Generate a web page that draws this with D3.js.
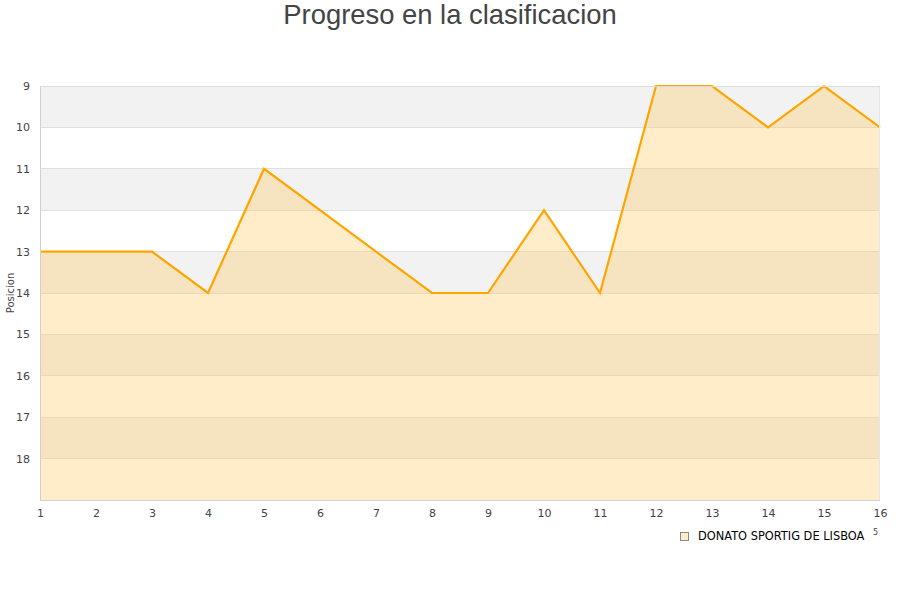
<!DOCTYPE html>
<html><head><meta charset="utf-8">
<script src="https://cdn.jsdelivr.net/npm/d3@7"></script>
<style>body{margin:0;background:#fff}</style>
</head><body>
<svg id="c" width="900" height="600"></svg>
<script>
const jornadas = [1,2,3,4,5,6,7,8,9,10,11,12,13,14,15,16];
const posiciones = [13,13,13,14,11,12,13,14,14,12,14,9,9,10,9,10];
const yTicks = [9,10,11,12,13,14,15,16,17,18];
const equipo = "DONATO SPORTIG DE LISBOA";
const titulo = "Progreso en la clasificacion";

const svg = d3.select("#c");
const L = 40, R = 880, T = 86, B = 500;
const x = d3.scaleLinear().domain([1,16]).range([L,R]);
const y = d3.scaleLinear().domain([9,19]).range([T,B]);

svg.append("text").attr("x",450).attr("y",24).attr("text-anchor","middle")
  .attr("font-family","Liberation Sans, Arial, sans-serif").attr("font-size",27.4)
  .attr("fill","#444").text(titulo);

// bands
const bands = d3.range(9,19);
svg.append("g").selectAll("rect").data(bands).join("rect")
  .attr("x",L).attr("width",R-L)
  .attr("y",d=>y(d)).attr("height",d=>y(d+1)-y(d))
  .attr("fill",d=>(d%2===1)?"#f2f2f2":"#ffffff");

// grid
svg.append("g").selectAll("line").data(yTicks).join("line")
  .attr("x1",L).attr("x2",R).attr("y1",d=>y(d)).attr("y2",d=>y(d))
  .attr("stroke","#e0e0e0").attr("stroke-width",1).attr("shape-rendering","crispEdges");

const pts = jornadas.map((j,i)=>[j,posiciones[i]]);
svg.append("path").datum(pts)
  .attr("d", d3.area().x(d=>x(d[0])).y0(B).y1(d=>y(d[1])))
  .attr("fill","rgba(255,204,102,0.35)");
svg.append("path").datum(pts)
  .attr("d", d3.line().x(d=>x(d[0])).y(d=>y(d[1])))
  .attr("fill","none").attr("stroke","#ffa500").attr("stroke-width",2.2);

// frame lines
svg.append("line").attr("x1",L+0.5).attr("x2",L+0.5).attr("y1",T).attr("y2",B)
  .attr("stroke","#d0d0d0");
svg.append("line").attr("x1",L).attr("x2",R).attr("y1",B+0.5).attr("y2",B+0.5)
  .attr("stroke","#d0d0d0");
svg.append("line").attr("x1",R-0.5).attr("x2",R-0.5).attr("y1",T).attr("y2",B)
  .attr("stroke","#e6e6e6");
svg.append("line").attr("x1",L).attr("x2",R).attr("y1",T+0.5).attr("y2",T+0.5)
  .attr("stroke","#dcdcdc");

// axes
const yAxis = d3.axisLeft(y).tickValues(yTicks).tickSize(0).tickPadding(10).tickFormat(d3.format("d"));
const gy = svg.append("g").attr("transform",`translate(${L},0)`).call(yAxis);
gy.select(".domain").remove();
gy.selectAll("text").attr("font-family","DejaVu Sans, sans-serif").attr("font-size",11).attr("fill","#444");

const xAxis = d3.axisBottom(x).tickValues(jornadas).tickSize(0).tickPadding(9).tickFormat(d3.format("d"));
const gx = svg.append("g").attr("transform",`translate(0,${B})`).call(xAxis);
gx.select(".domain").remove();
gx.selectAll("text").attr("font-family","DejaVu Sans, sans-serif").attr("font-size",11).attr("fill","#444");

svg.append("text").attr("transform","translate(14,293) rotate(-90)")
  .attr("text-anchor","middle").attr("font-family","DejaVu Sans, sans-serif")
  .attr("font-size",10).attr("fill","#444").text("Posicion");

// legend
svg.append("rect").attr("x",680.5).attr("y",532.5).attr("width",8).attr("height",8)
  .attr("fill","#ffecc8").attr("stroke","#888");
svg.append("text").attr("x",698).attr("y",540).attr("font-family","DejaVu Sans, sans-serif")
  .attr("font-size",11.4).attr("fill","#000").text(equipo);
svg.append("text").attr("x",873).attr("y",535).attr("font-family","DejaVu Sans, sans-serif")
  .attr("font-size",8).attr("fill","#444").text("5");
</script>
</body></html>
